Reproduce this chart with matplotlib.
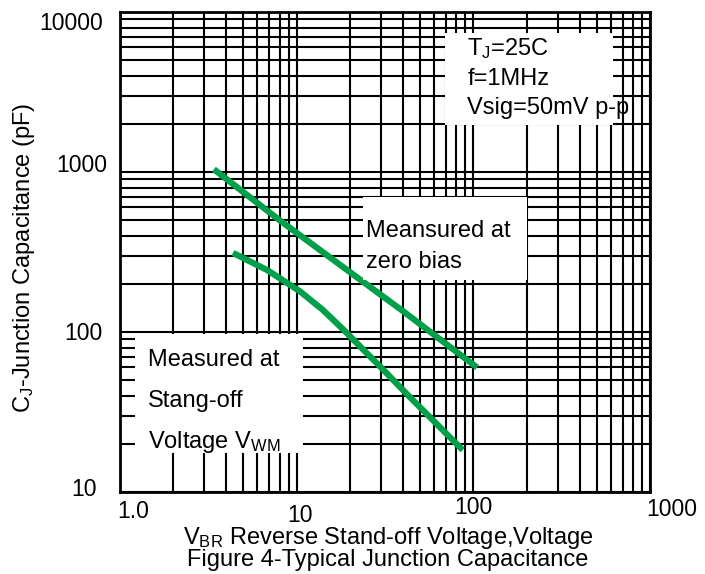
import matplotlib
matplotlib.use("Agg")
import matplotlib.pyplot as plt
from matplotlib.patches import Rectangle
from matplotlib.ticker import LogLocator, NullFormatter

plt.rcParams['font.family'] = ['Liberation Sans', 'DejaVu Sans']
plt.rcParams['mathtext.fontset'] = 'custom'
plt.rcParams['mathtext.rm'] = 'Liberation Sans'
plt.rcParams['mathtext.default'] = 'regular'

# capacitance curves, read as (voltage, pF)
zero_bias_v = [3.4, 8.0, 22.8, 40, 105]
zero_bias_c = [1040, 500, 213, 135, 60]

standoff_v = [4.36, 6.8, 10.4, 14, 18.3, 29.6, 42, 87]
standoff_c = [312, 244, 180, 138, 104, 61, 41, 18.3]

x_ticks = [1, 10, 100, 1000]
x_tick_labels = ['1.0', '10', '100', '1000']
y_ticks = [10, 100, 1000, 10000]
y_tick_labels = ['10', '100', '1000', '10000']

# label nudges in pixels
x_label_shift = [(13, -20), (3, -23), (0, -16), (22, -18)]
y_label_shift = [(-23, 2), (-17, -1), (-13, 7), (-17, -11)]

green = '#00a04a'
fs = 17
tick_fs = 16.5

fig = plt.figure(figsize=(7.05, 5.74), dpi=100)
ax = fig.add_axes([120 / 705, 1 - 492 / 574, 530 / 705, 480 / 574])
ax.set_xscale('log')
ax.set_yscale('log')
ax.set_xlim(1, 1000)
ax.set_ylim(10, 10000)

for axis in (ax.xaxis, ax.yaxis):
    axis.set_major_locator(LogLocator(base=10))
    axis.set_minor_locator(LogLocator(base=10, subs=range(2, 10)))
    axis.set_minor_formatter(NullFormatter())
ax.grid(which='both', color='black', linewidth=1.5)
ax.tick_params(which='both', length=0, labelbottom=False, labelleft=False)
for s in ax.spines.values():
    s.set_linewidth(2)
    s.set_color('black')

ax.plot(zero_bias_v, zero_bias_c, color=green, lw=4.5, solid_capstyle='butt', zorder=2)
ax.plot(standoff_v, standoff_c, color=green, lw=4.5, solid_capstyle='butt', zorder=2)

for v, lab, (dx, dy) in zip(x_ticks, x_tick_labels, x_label_shift):
    ax.annotate(lab, xy=(v, 0), xycoords=('data', 'axes fraction'),
                xytext=(dx, dy), textcoords='offset pixels',
                ha='center', va='center', fontsize=tick_fs, annotation_clip=False)
for v, lab, (dx, dy) in zip(y_ticks, y_tick_labels, y_label_shift):
    ax.annotate(lab, xy=(0, v), xycoords=('axes fraction', 'data'),
                xytext=(dx, dy), textcoords='offset pixels',
                ha='right', va='center', fontsize=tick_fs, annotation_clip=False)

# white note boxes laid over the grid
boxes = [
    (0.613, 0.765, 0.317, 0.191),
    (0.4585, 0.442, 0.3095, 0.173),
    (0.0283, 0.0813, 0.3167, 0.2477),
]
for bx, by, bw, bh in boxes:
    ax.add_patch(Rectangle((bx, by), bw, bh, transform=ax.transAxes,
                           facecolor='white', edgecolor='none', zorder=3))

notes = [
    (0.655, 0.923, r'T$_{J}$=25C'),
    (0.655, 0.860, 'f=1MHz'),
    (0.655, 0.800, 'Vsig=50mV p-p'),
    (0.464, 0.544, 'Meansured at'),
    (0.464, 0.479, 'zero bias'),
    (0.0528, 0.275, 'Measured at'),
    (0.0528, 0.190, 'Stang-off'),
    (0.0528, 0.104, r'Voltage V$_{WM}$'),
]
for tx, ty, s in notes:
    ax.text(tx, ty, s, transform=ax.transAxes, fontsize=fs,
            ha='left', va='center', zorder=4, clip_on=False)

fig.text(388 / 705, 1 - 538 / 574, r'V$_{BR}$ Reverse Stand-off Voltage,Voltage',
         ha='center', va='center', fontsize=fs)
fig.text(388 / 705, 1 - 560 / 574, 'Figure 4-Typical Junction Capacitance',
         ha='center', va='center', fontsize=fs)
fig.text(24 / 705, 1 - 258 / 574, r'C$_{J}$-Junction Capacitance (pF)',
         ha='center', va='center', rotation=90, fontsize=fs)

fig.savefig('out.png', dpi=100)
